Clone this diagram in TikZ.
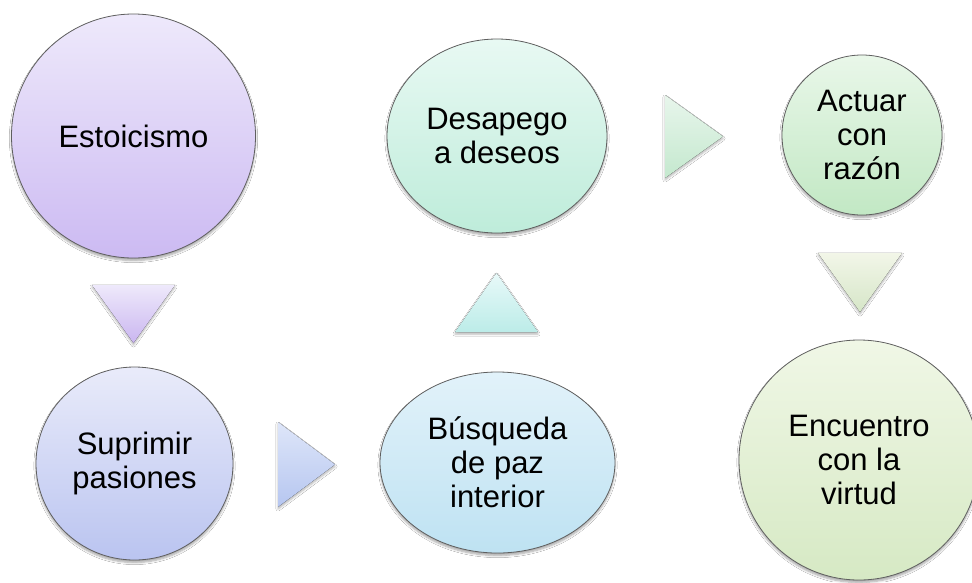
\documentclass[tikz,border=0pt]{standalone}
\usepackage{fontspec}
\setmainfont{Liberation Sans}
\usetikzlibrary{shapes.geometric,shadows.blur}
\definecolor{edgegray}{RGB}{95,95,95}
\definecolor{pA}{RGB}{238,233,251}\definecolor{pB}{RGB}{204,186,242}
\definecolor{bA}{RGB}{233,235,250}\definecolor{bB}{RGB}{186,196,240}
\definecolor{cA}{RGB}{226,242,250}\definecolor{cB}{RGB}{190,226,242}
\definecolor{mA}{RGB}{232,249,243}\definecolor{mB}{RGB}{190,236,218}
\definecolor{gA}{RGB}{233,247,233}\definecolor{gB}{RGB}{194,232,196}
\definecolor{yA}{RGB}{240,247,230}\definecolor{yB}{RGB}{214,233,196}
\definecolor{tpA}{RGB}{238,233,251}\definecolor{tpB}{RGB}{202,182,240}
\definecolor{tbA}{RGB}{222,230,249}\definecolor{tbB}{RGB}{182,198,240}
\definecolor{ttA}{RGB}{232,249,249}\definecolor{ttB}{RGB}{188,236,232}
\definecolor{tgA}{RGB}{232,246,236}\definecolor{tgB}{RGB}{196,232,206}
\definecolor{tyA}{RGB}{242,246,232}\definecolor{tyB}{RGB}{214,230,200}
\tikzset{
  bubble/.style={ellipse, draw=edgegray, line width=0.8pt, inner sep=0pt,
    align=center, text=black, font=\fontsize{31}{34}\selectfont,
    blur shadow={shadow xshift=0pt, shadow yshift=-2.5pt, shadow blur steps=6, shadow opacity=35}},
  tri/.style={blur shadow={shadow xshift=0pt, shadow yshift=-2pt, shadow blur steps=5, shadow opacity=30}}
}
\begin{document}
\begin{tikzpicture}[x=1pt,y=-1pt]
\useasboundingbox[fill=white] (0,0) rectangle (972,582);
% nodes
\node[bubble, minimum width=244pt, minimum height=244pt, top color=pA, bottom color=pB] (est) at (133.5,136) {Estoicismo};
\node[bubble, minimum width=197pt, minimum height=193pt, top color=bA, bottom color=bB] (sup) at (134.5,463.5) {Suprimir\\pasiones};
\node[bubble, minimum width=235pt, minimum height=181pt, top color=cA, bottom color=cB] (bus) at (497.5,462.5) {Búsqueda\\de paz\\interior};
\node[bubble, minimum width=220pt, minimum height=194pt, top color=mA, bottom color=mB] (des) at (497,136) {Desapego\\a deseos};
\node[bubble, minimum width=160pt, minimum height=160pt, top color=gA, bottom color=gB] (act) at (862,135) {Actuar\\con\\razón};
\node[bubble, minimum width=240pt, minimum height=240pt, top color=yA, bottom color=yB] (enc) at (859,460) {Encuentro\\con la\\virtud};
% triangular connectors
\fill[tri, top color=tpA, bottom color=tpB] (92,285) -- (175,285) -- (133.5,343) -- cycle;
\fill[tri, top color=tbA, bottom color=tbB] (278,422) -- (335,464.5) -- (278,507) -- cycle;
\fill[tri, top color=ttA, bottom color=ttB] (455,332) -- (496.5,273) -- (538,332) -- cycle;
\fill[tri, top color=tgA, bottom color=tgB] (665,95) -- (723,136.5) -- (665,178) -- cycle;
\fill[tri, top color=tyA, bottom color=tyB] (818,253) -- (902,253) -- (860,312) -- cycle;
\end{tikzpicture}
\end{document}
